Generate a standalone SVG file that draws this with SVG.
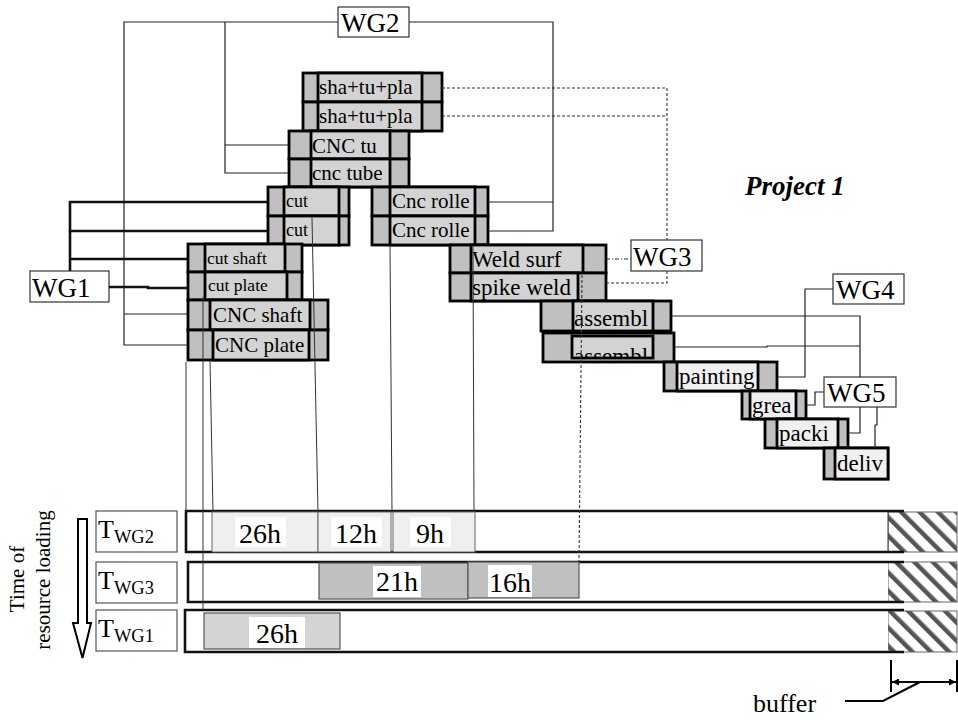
<svg xmlns="http://www.w3.org/2000/svg" width="958" height="720" viewBox="0 0 958 720">
<style>
  text { font-family: "Liberation Serif", "Times New Roman", serif; fill: #000; }
  .g { fill: #c0c0c0; stroke: #000; stroke-width: 2.8; }
  .l { fill: #d3d3d3; stroke: #000; stroke-width: 2.8; }
  .w { fill: #f0f0f0; stroke: #000; stroke-width: 2.8; }
  .t21 { font-size: 21px; }
  .t18 { font-size: 17.5px; }
  .t23 { font-size: 23px; }
  .wg { fill: #fff; stroke: #333; stroke-width: 1.2; }
  .wgt { font-size: 27px; }
  .thin { fill: none; stroke: #222; stroke-width: 1.2; }
  .thick { fill: none; stroke: #111; stroke-width: 2.6; }
  .dash { fill: none; stroke: #333; stroke-width: 1.1; stroke-dasharray: 3 2; }
  .dashdot { fill: none; stroke: #333; stroke-width: 1.1; stroke-dasharray: 4 2 1 2; }
  .drop { fill: none; stroke: #333; stroke-width: 1; }
  .bar { fill: #fff; stroke: #000; stroke-width: 2.6; }
  .lab { fill: #fff; stroke: #555; stroke-width: 1.2; }
  .hl { font-size: 28px; text-anchor: middle; }
  .bg { fill: #fff; }
</style>
<defs>
  <pattern id="hatch" width="13" height="13" patternUnits="userSpaceOnUse" patternTransform="rotate(-45)">
    <rect width="13" height="13" fill="#fff"/>
    <rect width="4.5" height="13" fill="#555"/>
  </pattern>
  <marker id="ah" viewBox="0 0 10 10" refX="10" refY="5" markerWidth="7" markerHeight="7" markerUnits="userSpaceOnUse" orient="auto-start-reverse">
    <path d="M0,0 L10,5 L0,10 z" fill="#000"/>
  </marker>
  <clipPath id="clipAs2"><rect x="573" y="337" width="79" height="20"/></clipPath>
</defs>

<!-- work group boxes -->
<g id="wg2"><rect class="wg" x="338" y="7" width="71" height="30"/><text class="wgt" x="341" y="32">WG2</text></g>
<g id="wg1"><rect class="wg" x="30" y="271" width="79" height="31"/><text class="wgt" x="32" y="297">WG1</text></g>
<g id="wg3"><rect class="wg" x="631" y="240" width="71" height="31"/><text class="wgt" x="633" y="266">WG3</text></g>
<g id="wg4"><rect class="wg" x="833" y="274" width="71" height="30"/><text class="wgt" x="836" y="299">WG4</text></g>
<g id="wg5"><rect class="wg" x="824" y="377" width="72" height="30"/><text class="wgt" x="827" y="402">WG5</text></g>

<!-- operation blocks -->
<g id="sha">
  <rect class="g" x="303" y="73" width="139" height="29"/><rect class="l" x="318" y="73" width="104" height="29"/>
  <text class="t21" x="319" y="94">sha+tu+pla</text>
  <rect class="g" x="303" y="102" width="139" height="29"/><rect class="l" x="318" y="102" width="104" height="29"/>
  <text class="t21" x="319" y="123">sha+tu+pla</text>
</g>
<g id="cnctu">
  <rect class="g" x="289" y="131" width="120" height="28"/><rect class="l" x="311" y="131" width="79" height="28"/>
  <text class="t21" x="312" y="153">CNC tu</text>
  <rect class="g" x="289" y="159" width="120" height="28"/><rect class="l" x="311" y="159" width="79" height="28"/>
  <text class="t21" x="312" y="180">cnc tube</text>
</g>
<g id="cut">
  <rect class="g" x="268" y="187" width="81" height="29"/><rect class="l" x="284" y="187" width="55" height="29"/>
  <text style="font-size:18px" x="286" y="207">cut</text>
  <rect class="g" x="268" y="216" width="81" height="29"/><rect class="l" x="284" y="216" width="55" height="29"/>
  <text style="font-size:18px" x="286" y="236">cut</text>
</g>
<g id="rolle">
  <rect class="g" x="372" y="187" width="116" height="29"/><rect class="l" x="390" y="187" width="85" height="29"/>
  <text class="t21" x="392" y="208">Cnc rolle</text>
  <rect class="g" x="372" y="216" width="116" height="29"/><rect class="l" x="390" y="216" width="85" height="29"/>
  <text class="t21" x="392" y="237">Cnc rolle</text>
</g>
<g id="cutsp">
  <rect class="g" x="188" y="244" width="114" height="28"/><rect class="l" x="205" y="244" width="80" height="28"/>
  <text class="t18" x="207" y="264">cut shaft</text>
  <rect class="g" x="188" y="272" width="114" height="28"/><rect class="l" x="205" y="272" width="82" height="28"/>
  <text class="t18" x="208" y="291">cut plate</text>
</g>
<g id="cncsp">
  <rect class="g" x="188" y="300" width="140" height="30"/><rect class="l" x="210" y="300" width="100" height="30"/>
  <text class="t21" x="213" y="322">CNC shaft</text>
  <rect class="g" x="188" y="330" width="140" height="30"/><rect class="l" x="213" y="330" width="96" height="30"/>
  <text class="t21" x="215" y="352">CNC plate</text>
</g>
<g id="weld">
  <rect class="g" x="450" y="245" width="156" height="28"/><rect class="l" x="471" y="245" width="112" height="28"/>
  <text class="t23" x="472" y="267">Weld surf</text>
  <rect class="g" x="450" y="273" width="156" height="28"/><rect class="l" x="471" y="273" width="107" height="28"/>
  <text class="t23" x="472" y="295">spike weld</text>
</g>
<g id="assembl1">
  <rect class="g" x="541" y="301" width="130" height="30"/><rect class="l" x="573" y="301" width="80" height="30"/>
  <text class="t23" x="574" y="326">assembl</text>
</g>
<g id="assembl2">
  <rect class="g" x="543" y="333" width="131" height="29"/><rect class="l" x="572" y="336" width="81" height="22"/>
  <text class="t23" x="574" y="364" clip-path="url(#clipAs2)">assembl</text>
</g>
<g id="painting">
  <rect class="g" x="664" y="362" width="113" height="29"/><rect class="w" x="677" y="362" width="81" height="29"/>
  <text class="t23" x="679" y="384">painting</text>
</g>
<g id="grea">
  <rect class="g" x="742" y="391" width="64" height="28"/><rect class="w" x="750" y="391" width="46" height="28"/>
  <text class="t23" x="752" y="413">grea</text>
</g>
<g id="packi">
  <rect class="g" x="765" y="419" width="83" height="29"/><rect class="w" x="777" y="419" width="61" height="29"/>
  <text class="t23" x="779" y="441">packi</text>
</g>
<g id="deliv">
  <rect class="g" x="824" y="448" width="64" height="31"/><rect class="w" x="835" y="448" width="53" height="31"/>
  <text class="t23" x="837" y="471">deliv</text>
</g>

<text x="745" y="195" style="font-size:27px;font-weight:bold;font-style:italic">Project 1</text>

<!-- resource loading bars -->
<g id="loading">
  <rect class="lab" x="96" y="511" width="81" height="41"/>
  <text x="98" y="538" style="font-size:26px">T<tspan style="font-size:18.5px" dy="5">WG2</tspan></text>
  <rect class="lab" x="96" y="562" width="81" height="41"/>
  <text x="98" y="589" style="font-size:26px">T<tspan style="font-size:18.5px" dy="5">WG3</tspan></text>
  <rect class="lab" x="96" y="610" width="81" height="41"/>
  <text x="98" y="637" style="font-size:26px">T<tspan style="font-size:18.5px" dy="5">WG1</tspan></text>

  <rect x="888" y="512" width="69" height="40" fill="url(#hatch)" stroke="#666" stroke-width="1"/>
  <rect x="888" y="562" width="69" height="40" fill="url(#hatch)" stroke="#666" stroke-width="1"/>
  <rect x="888" y="611" width="69" height="41" fill="url(#hatch)" stroke="#666" stroke-width="1"/>

  <rect x="186" y="511" width="702" height="41" fill="#fff"/>
  <path class="thick" d="M904,511 H186 V552 H904"/>
  <line class="drop" x1="888" y1="511" x2="888" y2="552"/>
  <rect x="188" y="562" width="700" height="40" fill="#fff"/>
  <path class="thick" d="M904,562 H188 V602 H904"/>
  <rect x="185" y="610" width="703" height="42" fill="#fff"/>
  <path class="thick" d="M904,610 H185 V652 H904"/>

  <rect x="212" y="512" width="106" height="40" fill="#efefef" stroke="#666" stroke-width="1"/>
  <rect x="318" y="512" width="73" height="40" fill="#efefef" stroke="#666" stroke-width="1"/>
  <rect x="393" y="512" width="82" height="40" fill="#efefef" stroke="#666" stroke-width="1"/>
  <rect x="319" y="563" width="149" height="36" fill="#c0c0c0" stroke="#555" stroke-width="1.2"/>
  <rect x="468" y="562" width="111" height="36" fill="#c0c0c0" stroke="#555" stroke-width="1.2"/>
  <rect x="204" y="613" width="136" height="36" fill="#d4d4d4" stroke="#555" stroke-width="1.2"/>

  <rect class="bg" x="235" y="517" width="51" height="30"/><text class="hl" x="260" y="543">26h</text>
  <rect class="bg" x="331" y="517" width="51" height="30"/><text class="hl" x="356" y="543">12h</text>
  <rect class="bg" x="410" y="517" width="41" height="30"/><text class="hl" x="430" y="543">9h</text>
  <rect class="bg" x="373" y="566" width="48" height="31"/><text class="hl" x="397" y="591">21h</text>
  <rect class="bg" x="488" y="565" width="44" height="32"/><text class="hl" x="510" y="592">16h</text>
  <rect class="bg" x="249" y="617" width="56" height="31"/><text class="hl" x="277" y="643">26h</text>

  <polygon points="78,519 87,519 87,623 91,623 82.5,658 73,623 78,623" fill="#fff" stroke="#000" stroke-width="2"/>
  <text transform="translate(24,579) rotate(-90)" style="font-size:21px" text-anchor="middle">Time of</text>
  <text transform="translate(50,580) rotate(-90)" style="font-size:21px" text-anchor="middle">resource loading</text>

  <line x1="891" y1="660" x2="891" y2="692" stroke="#000" stroke-width="2"/>
  <line x1="957" y1="660" x2="957" y2="692" stroke="#000" stroke-width="2"/>
  <line x1="892" y1="682" x2="956" y2="682" stroke="#000" stroke-width="2.2" marker-start="url(#ah)" marker-end="url(#ah)"/>
  <polyline points="845,701 883,701 920,682" fill="none" stroke="#000" stroke-width="2"/>
  <text x="753" y="712" style="font-size:26px">buffer</text>
</g>

<!-- connectors -->
<g id="connectors">
  <path class="thin" d="M338,22 H124 V345 H188 M124,314 H188"/>
  <path class="thin" d="M225,22 V173 H289 M225,145 H289"/>
  <path class="thin" d="M409,22 H553 V231 H488 M553,202 H488"/>
  <path class="thick" d="M70,271 V202 H268 M70,231 H268 M70,259 H188"/>
  <path class="thick" d="M109,287 H148 V288 H188"/>
  <path class="dash" d="M442,88 H667 V240 M442,116 H667 M606,283 H667 V271"/>
  <path class="dashdot" d="M606,259 H631"/>
  <path class="thin" d="M777,377 H805 V289 H833"/>
  <path class="thin" d="M671,316 H860 V377 M674,347 H767 V346 H860"/>
  <path class="thin" d="M806,405 H815 V392 H824"/>
  <path class="thin" d="M848,433 H860 V407"/>
  <path class="thin" d="M877,407 V425 H875 V448"/>
  <path class="drop" d="M186,362 V512 M203,297 V610 M210,360 L213,512 M312,218 L318,512 M390,245 L392,512 M473,247 L474,512"/>
  <path class="dash" d="M582,275 L579,562"/>
</g>
</svg>
